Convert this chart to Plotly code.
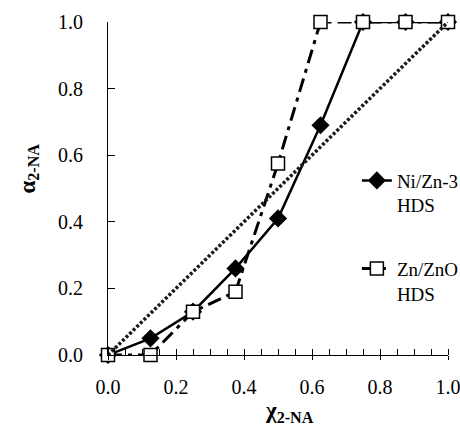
import plotly.graph_objects as go

x_vals = [0.0, 0.125, 0.25, 0.375, 0.5, 0.625, 0.75, 0.875, 1.0]
ni_zn3_hds = [0.0, 0.05, 0.13, 0.26, 0.41, 0.69, 1.0, 1.0, 1.0]
zn_zno_hds = [0.0, 0.0, 0.13, 0.19, 0.575, 1.0, 1.0, 1.0, 1.0]
diag_x = [0.0, 1.0]
diag_y = [0.0, 1.0]
x_ticks = [0.0, 0.2, 0.4, 0.6, 0.8, 1.0]
y_ticks = [0.0, 0.2, 0.4, 0.6, 0.8, 1.0]
tick_text = ["0.0", "0.2", "0.4", "0.6", "0.8", "1.0"]

FONT = "Liberation Serif"

fig = go.Figure()
fig.add_trace(go.Scatter(
    x=x_vals, y=ni_zn3_hds, mode="lines+markers", name="Ni/Zn-3<br>HDS",
    line=dict(color="black", width=2.5),
    marker=dict(symbol="diamond", size=14, color="black"),
    cliponaxis=False, legend="legend"))
fig.add_trace(go.Scatter(
    x=x_vals, y=zn_zno_hds, mode="lines+markers", name="Zn/ZnO<br>HDS",
    line=dict(color="black", width=3, dash="14px,6px,4px,6px"),
    marker=dict(symbol="square", size=13, color="white", line=dict(color="black", width=1.5)),
    cliponaxis=False, legend="legend2"))
fig.add_trace(go.Scatter(
    x=diag_x, y=diag_y, mode="lines", showlegend=False,
    line=dict(color="#1a1a1a", width=3.5, dash="3px,2px"),
    cliponaxis=False))

axis_common = dict(showgrid=False, zeroline=False, showline=True, linecolor="black", linewidth=1,
                   tickcolor="black", tickfont=dict(family=FONT, size=20, color="black"),
                   ticklabeloverflow="allow")

fig.update_xaxes(range=[0, 1], tickvals=x_ticks, ticktext=tick_text, ticks="outside", ticklen=4,
                 tickwidth=1, ticklabelstandoff=10,
                 minor=dict(dtick=0.05, tick0=0, ticks="inside", ticklen=6, tickcolor="black", tickwidth=1),
                 **axis_common)
fig.update_yaxes(range=[0, 1], tickvals=y_ticks, ticktext=tick_text, ticks="inside", ticklen=7,
                 tickwidth=1, ticklabelstandoff=20, **axis_common)

fig.update_layout(xaxis2=dict(overlaying="x", matches="x", side="bottom", anchor="y",
                              tickvals=x_ticks, ticks="inside", ticklen=6, tickcolor="black",
                              showticklabels=False, showline=False, showgrid=False, zeroline=False))

fig.add_annotation(text="<b>χ<sub>2-NA</sub></b>", xref="paper", yref="paper", x=0.535, y=-0.172,
                   xanchor="center", yanchor="middle", showarrow=False,
                   font=dict(family=FONT, size=23, color="black"))
fig.add_annotation(text="<b>α<sub>2-NA</sub></b>", xref="paper", yref="paper", x=-0.235, y=0.56,
                   xanchor="center", yanchor="middle", showarrow=False, textangle=-90,
                   font=dict(family=FONT, size=23, color="black"))

legend_common = dict(font=dict(family=FONT, size=19, color="black"), bgcolor="rgba(0,0,0,0)",
                     borderwidth=0, xanchor="left", yanchor="top", valign="top")
fig.update_layout(
    width=460, height=426,
    margin=dict(l=108, r=12, t=22, b=71, autoexpand=False),
    paper_bgcolor="white", plot_bgcolor="white",
    font=dict(family=FONT),
    legend=dict(x=0.732, y=0.581, **legend_common),
    legend2=dict(x=0.732, y=0.316, **legend_common),
)

fig.write_html("out.html", config={"displayModeBar": False},
               post_script="document.body.style.margin='0';document.body.style.overflow='hidden';")
